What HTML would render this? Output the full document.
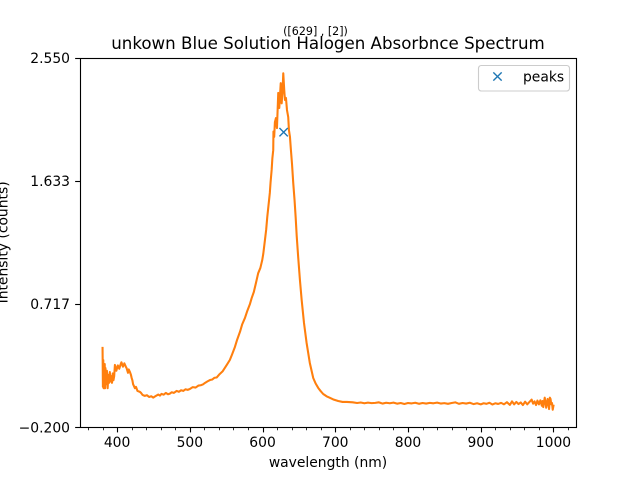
<!DOCTYPE html>
<html>
<head>
<meta charset="utf-8">
<style>
html,body{margin:0;padding:0;background:#fff;width:640px;height:480px;overflow:hidden}
svg{display:block}
text{font-family:"DejaVu Sans","Liberation Sans",sans-serif;fill:#000}
</style>
</head>
<body>
<svg id="chart" xmlns="http://www.w3.org/2000/svg" width="640" height="480" viewBox="0 0 640 480"></svg>
<script>
var majorXTicks = [400, 500, 600, 700, 800, 900, 1000];
var minorXTicks = [360, 380, 420, 440, 460, 480, 520, 540, 560, 580, 620, 640, 660, 680, 720, 740, 760, 780, 820, 840, 860, 880, 920, 940, 960, 980, 1020];
var yTicks = [-0.2, 0.717, 1.633, 2.55];
var yTickLabels = ["\u22120.200", "0.717", "1.633", "2.550"];
var xDomain = [349, 1031];
var yDomain = [-0.2, 2.55];
var peakWavelengths = [629];
var peakValues = [2];
var wavelengths = [
380,380.5,381,381.5,382,382.5,383,383.5,384,385,
386,387,388,389,390,391,392,393,394,395,
396,397,399,401,403,405,406,408,410,412,
413,415,416,417.7,419,420,421,422,424.5,426,
428,431.4,433,435,438,441,444,447,449.7,452,
454,456.6,459,461,464,467,470,472.7,475,478,
482,485,488,491,494,497,500,504,508,512,
515,518,521,524,527.7,531,534,537,541,545,
548,551,555,558,562,565,569,572,575.8,579,
582.7,585,588,591,594,597,599.6,601,603.3,605,
606.5,608,610,611,612.5,613.5,614.7,615,616,617,
618.4,619.8,621,621.6,623,625,626.3,627.6,628.5,629.8,
630.8,632.2,633.6,635.3,636.3,637.7,639,640.5,642.2,644,
645.5,647,649,651.4,653.8,657,660.6,665,669.7,673,
676.6,680,683.4,688,692.6,698,704,710,716,724,
730,735,740,745,750,755,760,765,770,775,
780,785,790,795,800,805,810,815,820,825,
830,835,840,845,850,855,860,865,870,875,
880,885,890,895,900,904,908,912,916,920,
924,928,932,936,940,943,946,949,952,955,
958,961,964,967,970,972,974,976,978,980,
982,984,985,986,988,989,990,992,993,994,
995,996,997,998,999,1000];
var absorbance = [
0.39,0.10,0.30,0.09,0.22,0.10,0.27,0.09,0.24,0.12,
0.22,0.09,0.19,0.13,0.21,0.14,0.18,0.13,0.20,0.15,
0.18,0.263,0.22,0.26,0.235,0.27,0.283,0.25,0.275,0.25,
0.24,0.205,0.23,0.21,0.19,0.167,0.15,0.12,0.09,0.10,
0.07,0.063,0.055,0.04,0.033,0.038,0.025,0.03,0.02,0.028,
0.035,0.043,0.035,0.048,0.042,0.055,0.045,0.05,0.06,0.055,
0.07,0.063,0.075,0.07,0.082,0.078,0.084,0.098,0.095,0.11,
0.112,0.118,0.13,0.14,0.151,0.155,0.168,0.17,0.195,0.215,
0.24,0.265,0.30,0.34,0.397,0.45,0.51,0.565,0.613,0.665,
0.717,0.76,0.806,0.875,0.946,0.985,1.044,1.09,1.193,1.27,
1.364,1.44,1.543,1.62,1.714,1.80,1.862,2.0,1.96,2.07,
2.1,2.026,2.2,2.287,2.175,2.36,2.21,2.31,2.433,2.31,
2.235,2.25,2.16,2.108,2.01,1.96,1.863,1.76,1.617,1.49,
1.364,1.22,1.066,0.895,0.746,0.575,0.426,0.278,0.166,0.125,
0.092,0.068,0.047,0.03,0.019,0.005,-0.005,-0.012,-0.012,-0.015,
-0.02,-0.016,-0.022,-0.017,-0.021,-0.019,-0.015,-0.024,-0.018,-0.022,
-0.017,-0.025,-0.02,-0.027,-0.02,-0.023,-0.018,-0.026,-0.02,-0.024,
-0.019,-0.022,-0.017,-0.024,-0.021,-0.026,-0.02,-0.015,-0.026,-0.02,
-0.024,-0.018,-0.028,-0.022,-0.03,-0.022,-0.026,-0.018,-0.031,-0.022,
-0.027,-0.019,-0.03,-0.014,-0.034,-0.008,-0.03,-0.012,-0.028,-0.016,
-0.035,-0.01,-0.03,-0.012,0.005,-0.025,-0.008,-0.035,-0.002,-0.03,
0.0,-0.04,-0.005,-0.05,0.02,-0.01,-0.055,0.01,-0.025,-0.065,
0.02,0.01,-0.03,-0.02,-0.07,-0.04];

var svg = document.getElementById('chart');
var NS = 'http://www.w3.org/2000/svg';
var plotLeft = 80, plotRight = 576, plotTop = 57.6, plotBottom = 427.2;
function xScale(v){ return plotLeft + (v - xDomain[0]) / (xDomain[1] - xDomain[0]) * (plotRight - plotLeft); }
function yScale(v){ return plotBottom - (v - yDomain[0]) / (yDomain[1] - yDomain[0]) * (plotBottom - plotTop); }
function make(tag, attrs, parent){
  var el = document.createElementNS(NS, tag);
  for (var k in attrs) el.setAttribute(k, attrs[k]);
  (parent || svg).appendChild(el);
  return el;
}
function label(str, x, y, size, anchor, extra){
  var t = make('text', {x: x, y: y, 'font-size': size, 'text-anchor': anchor});
  if (extra) t.setAttribute('transform', extra);
  t.textContent = str;
  return t;
}

var bg = make('rect', {x: plotLeft, y: plotTop, width: plotRight - plotLeft, height: plotBottom - plotTop, fill: '#fff'});



var line = make('polyline', {fill: 'none', stroke: '#ff7f0e', 'stroke-width': 2.08, 'stroke-linejoin': 'round', 'stroke-linecap': 'square',
  points: wavelengths.map(function(w, i){ return xScale(w).toFixed(2) + ',' + yScale(absorbance[i]).toFixed(2); }).join(' ')});



function xMarker(cx, cy, name){
  var d = 4.17;
  var p = make('path', {d: 'M' + (cx - d) + ' ' + (cy - d) + 'L' + (cx + d) + ' ' + (cy + d) + 'M' + (cx - d) + ' ' + (cy + d) + 'L' + (cx + d) + ' ' + (cy - d), stroke: '#1f77b4', 'stroke-width': 1.39, fill: 'none'});
  
  
}
peakWavelengths.forEach(function(w, i){
  xMarker(xScale(w), yScale(peakValues[i]) + 0.7, 'peak-marker');
});

var frame = make('rect', {x: plotLeft + 0.5, y: 58.5, width: plotRight - plotLeft, height: 369, fill: 'none', stroke: '#000', 'stroke-width': 1.11});



majorXTicks.forEach(function(v){
  var x = Math.round(xScale(v)) + 0.5;
  var tick = make('line', {x1: x, x2: x, y1: 427.5, y2: 432.4, stroke: '#000', 'stroke-width': 1.11});
  
  
  var t = label(String(v), xScale(v), 447, 13.89, 'middle');
  
  
});
minorXTicks.forEach(function(v){
  var x = Math.round(xScale(v)) + 0.5;
  var tick = make('line', {x1: x, x2: x, y1: 427.5, y2: 430.3, stroke: '#000', 'stroke-width': 0.83});
  
  
});
yTicks.forEach(function(v, i){
  var y = Math.round(yScale(v)) + 0.5;
  var tick = make('line', {x1: plotLeft - 4.86, x2: plotLeft, y1: y, y2: y, stroke: '#000', 'stroke-width': 1.11});
  
  
  var t = label(yTickLabels[i], 70, yScale(v) + 5.2, 13.89, 'end');
  
  
});

var title = label('unkown Blue Solution Halogen Absorbnce Spectrum', 328, 49, 16.67, 'middle');



var sup = label('([629] , [2])', 315.5, 35, 11.1, 'middle');



var xTitle = label('wavelength (nm)', 328, 467, 13.89, 'middle');



var yTitle = label('Intensity (counts)', 7.5, 242.4, 13.89, 'middle', 'rotate(-90 7.5 242.4)');



var legend = make('g', {});


var legendBox = make('rect', {x: 478.5, y: 65.5, width: 91, height: 25.5, rx: 2.8, ry: 2.8, fill: '#fff', 'fill-opacity': 0.8, stroke: '#ccc', 'stroke-width': 1.11}, legend);


xMarker(497.5, 76.5, 'legend-peak-marker');
var legendText = label('peaks', 523, 81.5, 13.89, 'start');


</script>
</body>
</html>
